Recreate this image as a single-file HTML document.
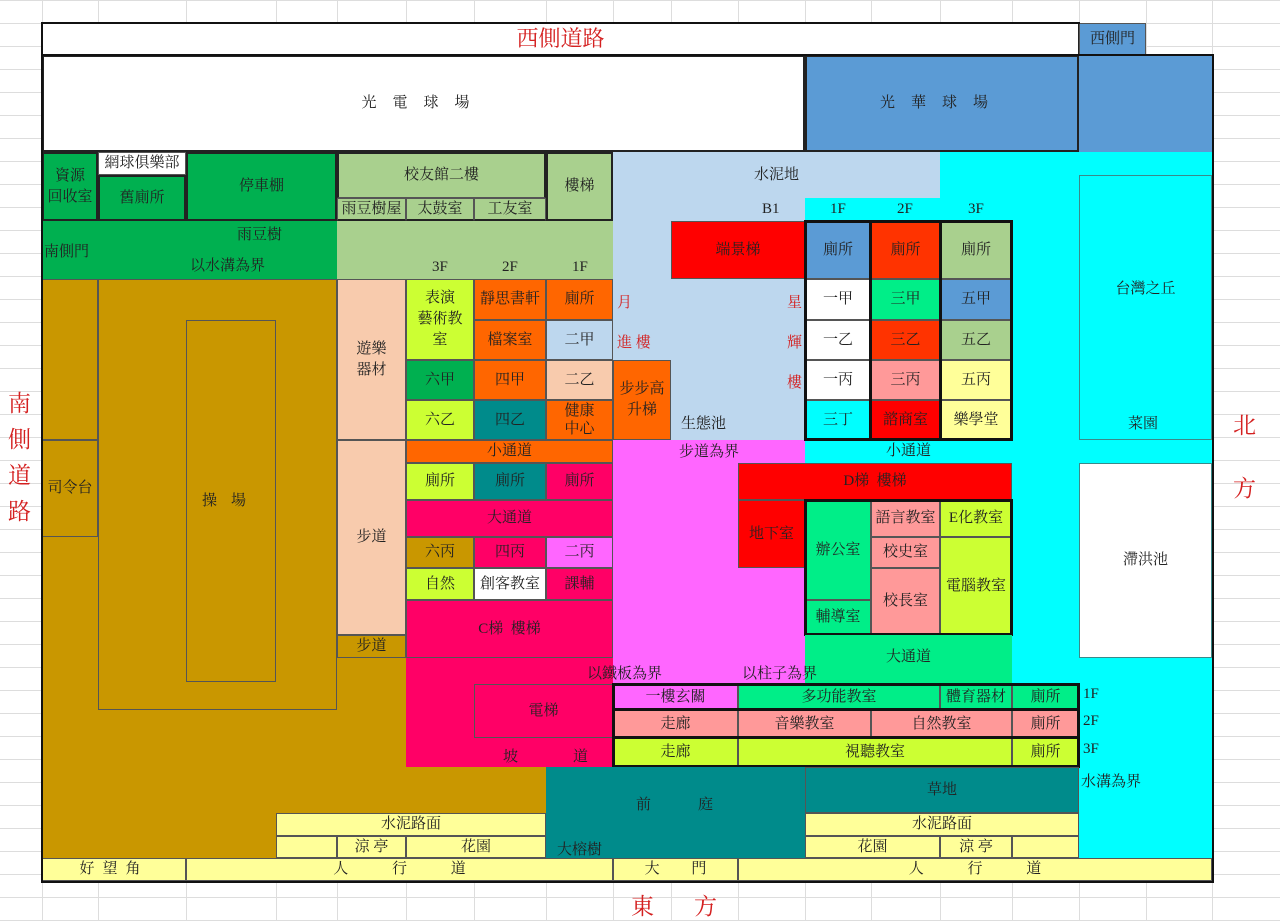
<!DOCTYPE html>
<html><head><meta charset="utf-8"><style>
body{margin:0;width:1280px;height:921px;position:relative;overflow:hidden;background:#fff;
font-family:"Liberation Serif","Noto Serif CJK SC","Noto Sans CJK TC",serif;font-size:15px;color:#222;
background-image:linear-gradient(#ddd 1px,transparent 1px);background-size:100% 23px;background-position:0 0}
.g{position:absolute;top:0;width:1px;height:921px;background:#ddd}
.b{position:absolute;box-sizing:border-box;display:flex;align-items:center;justify-content:center;text-align:center;line-height:1.4;border:1px solid #555}
.n{border:none}
.t{position:absolute;white-space:nowrap}
.r{color:#d42020}
.k{border:3px solid #111;position:absolute;box-sizing:border-box}
</style></head><body>
<div class="g" style="left:42px"></div><div class="g" style="left:98px"></div><div class="g" style="left:186px"></div><div class="g" style="left:276px"></div><div class="g" style="left:337px"></div><div class="g" style="left:406px"></div><div class="g" style="left:474px"></div><div class="g" style="left:546px"></div><div class="g" style="left:613px"></div><div class="g" style="left:671px"></div><div class="g" style="left:738px"></div><div class="g" style="left:805px"></div><div class="g" style="left:871px"></div><div class="g" style="left:940px"></div><div class="g" style="left:1012px"></div><div class="g" style="left:1079px"></div><div class="g" style="left:1146px"></div><div class="g" style="left:1212px"></div>

<div class="b n" style="left:42px;top:55px;width:1170px;height:826px;background:#00ffff"></div>
<div class="b" style="left:42px;top:23px;width:1037px;height:32px;background:#fff;font-size:22px;color:#d42020;border-color:#222">西側道路</div>
<div class="b" style="left:1079px;top:23px;width:67px;height:32px;background:#5b9bd5">西側門</div>
<div class="b" style="left:42px;top:55px;width:763px;height:97px;background:#fff;border:2px solid #222;letter-spacing:16px">光電球場</div>
<div class="b" style="left:805px;top:55px;width:274px;height:97px;background:#5b9bd5;border:2px solid #222;letter-spacing:16px">光華球場</div>
<div class="b n" style="left:1079px;top:55px;width:133px;height:97px;background:#5b9bd5"></div>

<div class="b n" style="left:613px;top:152px;width:327px;height:46px;background:#bdd7ee">水泥地</div>
<div class="b n" style="left:613px;top:198px;width:192px;height:242px;background:#bdd7ee"></div>
<div class="t" style="left:762px;top:201px">B1</div>
<div class="t" style="left:830px;top:201px">1F</div><div class="t" style="left:897px;top:201px">2F</div><div class="t" style="left:968px;top:201px">3F</div>

<div class="b n" style="left:42px;top:152px;width:295px;height:127px;background:#00b050"></div>
<div class="b" style="left:42px;top:152px;width:56px;height:69px;background:#00b050;border:2px solid #222">資源<br>回收室</div>
<div class="b" style="left:98px;top:152px;width:88px;height:23px;background:#fff">網球俱樂部</div>
<div class="b" style="left:98px;top:175px;width:88px;height:46px;background:#00b050;border:2px solid #222">舊廁所</div>
<div class="b" style="left:186px;top:152px;width:151px;height:69px;background:#00b050;border:2px solid #222">停車棚</div>
<div class="t" style="left:44px;top:240px">南側門</div>
<div class="t" style="left:237px;top:223px">雨豆樹</div>
<div class="t" style="left:190px;top:254px">以水溝為界</div>
<div class="b n" style="left:337px;top:152px;width:276px;height:127px;background:#a9d08e"></div>
<div class="b" style="left:337px;top:152px;width:209px;height:46px;background:#a9d08e;border:2px solid #222;border-bottom:1px solid #555">校友館二樓</div>
<div class="b" style="left:337px;top:198px;width:69px;height:23px;background:#a9d08e;border-bottom:2px solid #222">雨豆樹屋</div>
<div class="b" style="left:406px;top:198px;width:68px;height:23px;background:#a9d08e;border-bottom:2px solid #222">太鼓室</div>
<div class="b" style="left:474px;top:198px;width:72px;height:23px;background:#a9d08e;border-bottom:2px solid #222">工友室</div>
<div class="b" style="left:546px;top:152px;width:67px;height:69px;background:#a9d08e;border:2px solid #222">樓梯</div>
<div class="t" style="left:432px;top:259px">3F</div><div class="t" style="left:502px;top:259px">2F</div><div class="t" style="left:572px;top:259px">1F</div>

<div class="b n" style="left:42px;top:279px;width:295px;height:579px;background:#c99700"></div>
<div class="b n" style="left:337px;top:658px;width:209px;height:155px;background:#c99700"></div>
<div class="b" style="left:42px;top:279px;width:56px;height:161px;background:#c99700"></div>
<div class="b" style="left:42px;top:440px;width:56px;height:97px;background:#c99700">司令台</div>
<div class="b" style="left:98px;top:279px;width:239px;height:431px;background:#c99700"></div>
<div class="b" style="left:186px;top:320px;width:90px;height:362px;background:#c99700;letter-spacing:14px">操場</div>
<div class="b" style="left:337px;top:279px;width:69px;height:161px;background:#f8cbad">遊樂<br>器材</div>
<div class="b" style="left:337px;top:440px;width:69px;height:195px;background:#f8cbad">步道</div>
<div class="b" style="left:337px;top:635px;width:69px;height:23px;background:#c99700">步道</div>

<div class="b" style="left:406px;top:279px;width:68px;height:81px;background:#ccff33">表演<br>藝術教<br>室</div>
<div class="b" style="left:474px;top:279px;width:72px;height:41px;background:#ff6600">靜思書軒</div>
<div class="b" style="left:546px;top:279px;width:67px;height:41px;background:#ff6600">廁所</div>
<div class="b" style="left:474px;top:320px;width:72px;height:40px;background:#ff6600">檔案室</div>
<div class="b" style="left:546px;top:320px;width:67px;height:40px;background:#bdd7ee">二甲</div>
<div class="b" style="left:406px;top:360px;width:68px;height:40px;background:#00b050">六甲</div>
<div class="b" style="left:474px;top:360px;width:72px;height:40px;background:#ff6600">四甲</div>
<div class="b" style="left:546px;top:360px;width:67px;height:40px;background:#f8cbad">二乙</div>
<div class="b" style="left:406px;top:400px;width:68px;height:40px;background:#ccff33">六乙</div>
<div class="b" style="left:474px;top:400px;width:72px;height:40px;background:#008b8b">四乙</div>
<div class="b" style="left:546px;top:400px;width:67px;height:40px;background:#ff6600;line-height:1.2">健康<br>中心</div>
<div class="b" style="left:613px;top:360px;width:58px;height:80px;background:#ff6600">步步高<br>升梯</div>
<div class="t" style="left:681px;top:412px">生態池</div>
<div class="t r" style="left:617px;top:291px">月</div>
<div class="t r" style="left:617px;top:331px">進 樓</div>
<div class="t r" style="left:787px;top:291px">星</div>
<div class="t r" style="left:787px;top:331px">輝</div>
<div class="t r" style="left:787px;top:371px">樓</div>

<div class="b" style="left:406px;top:440px;width:207px;height:23px;background:#ff6600">小通道</div>
<div class="b n" style="left:613px;top:440px;width:192px;height:244px;background:#ff66ff;align-items:flex-start;padding-top:2px">步道為界</div>
<div class="b n" style="left:805px;top:440px;width:207px;height:23px;background:#00ffff">小通道</div>
<div class="b" style="left:406px;top:463px;width:68px;height:37px;background:#ccff33">廁所</div>
<div class="b" style="left:474px;top:463px;width:72px;height:37px;background:#008b8b">廁所</div>
<div class="b" style="left:546px;top:463px;width:67px;height:37px;background:#ff0066">廁所</div>
<div class="b" style="left:406px;top:500px;width:207px;height:37px;background:#ff0066">大通道</div>
<div class="b" style="left:406px;top:537px;width:68px;height:31px;background:#c99700">六丙</div>
<div class="b" style="left:474px;top:537px;width:72px;height:31px;background:#ff0066">四丙</div>
<div class="b" style="left:546px;top:537px;width:67px;height:31px;background:#ff66ff">二丙</div>
<div class="b" style="left:406px;top:568px;width:68px;height:32px;background:#ccff33">自然</div>
<div class="b" style="left:474px;top:568px;width:72px;height:32px;background:#fff">創客教室</div>
<div class="b" style="left:546px;top:568px;width:67px;height:32px;background:#ff0066">課輔</div>
<div class="b" style="left:406px;top:600px;width:207px;height:58px;background:#ff0066">C梯&nbsp; 樓梯</div>
<div class="b n" style="left:406px;top:658px;width:207px;height:109px;background:#ff0066"></div>
<div class="b" style="left:474px;top:684px;width:139px;height:54px;background:#ff0066">電梯</div>
<div class="t" style="left:503px;top:745px">坡</div><div class="t" style="left:573px;top:745px">道</div>

<div class="b" style="left:671px;top:221px;width:134px;height:58px;background:#ff0000">端景梯</div>
<div class="b" style="left:805px;top:221px;width:66px;height:58px;background:#5b9bd5">廁所</div>
<div class="b" style="left:871px;top:221px;width:69px;height:58px;background:#ff3300">廁所</div>
<div class="b" style="left:940px;top:221px;width:72px;height:58px;background:#a9d08e">廁所</div>
<div class="b" style="left:805px;top:279px;width:66px;height:41px;background:#fff">一甲</div>
<div class="b" style="left:871px;top:279px;width:69px;height:41px;background:#00ee88">三甲</div>
<div class="b" style="left:940px;top:279px;width:72px;height:41px;background:#5b9bd5">五甲</div>
<div class="b" style="left:805px;top:320px;width:66px;height:40px;background:#fff">一乙</div>
<div class="b" style="left:871px;top:320px;width:69px;height:40px;background:#ff3300">三乙</div>
<div class="b" style="left:940px;top:320px;width:72px;height:40px;background:#a9d08e">五乙</div>
<div class="b" style="left:805px;top:360px;width:66px;height:40px;background:#fff">一丙</div>
<div class="b" style="left:871px;top:360px;width:69px;height:40px;background:#ff9999">三丙</div>
<div class="b" style="left:940px;top:360px;width:72px;height:40px;background:#ffff99">五丙</div>
<div class="b" style="left:805px;top:400px;width:66px;height:40px;background:#00ffff">三丁</div>
<div class="b" style="left:871px;top:400px;width:69px;height:40px;background:#ff0000">諮商室</div>
<div class="b" style="left:940px;top:400px;width:72px;height:40px;background:#ffff99">樂學堂</div>
<div class="k" style="left:804px;top:220px;width:209px;height:221px"></div>
<div class="k" style="left:869px;top:220px;width:3px;height:221px;border-width:0 0 0 3px"></div>
<div class="k" style="left:939px;top:220px;width:3px;height:221px;border-width:0 0 0 3px"></div>

<div class="b" style="left:1079px;top:175px;width:133px;height:265px;background:#00ffff;border-color:#3a8a8a;align-items:flex-start;padding-top:103px">台灣之丘</div>
<div class="t" style="left:1128px;top:412px">菜園</div>
<div class="b" style="left:1079px;top:463px;width:133px;height:195px;background:#fff;border-color:#3a8a8a">滯洪池</div>

<div class="b" style="left:738px;top:463px;width:274px;height:37px;background:#ff0000">D梯&nbsp; 樓梯</div>
<div class="b" style="left:738px;top:500px;width:67px;height:68px;background:#ff0000">地下室</div>
<div class="b" style="left:805px;top:500px;width:66px;height:100px;background:#00ee88">辦公室</div>
<div class="b" style="left:805px;top:600px;width:66px;height:35px;background:#00ee88">輔導室</div>
<div class="b" style="left:871px;top:500px;width:69px;height:37px;background:#ff9999">語言教室</div>
<div class="b" style="left:871px;top:537px;width:69px;height:31px;background:#ff9999">校史室</div>
<div class="b" style="left:871px;top:568px;width:69px;height:67px;background:#ff9999">校長室</div>
<div class="b" style="left:940px;top:500px;width:72px;height:37px;background:#ccff33">E化教室</div>
<div class="b" style="left:940px;top:537px;width:72px;height:98px;background:#ccff33">電腦教室</div>
<div class="k" style="left:804px;top:499px;width:209px;height:137px"></div>
<div class="b n" style="left:805px;top:635px;width:207px;height:49px;background:#00ee88;align-items:flex-start;padding-top:12px">大通道</div>
<div class="t" style="left:587px;top:662px">以鐵板為界</div>
<div class="t" style="left:742px;top:662px">以柱子為界</div>

<div class="b" style="left:613px;top:684px;width:125px;height:26px;background:#ff66ff">一樓玄關</div>
<div class="b" style="left:738px;top:684px;width:202px;height:26px;background:#00ee88">多功能教室</div>
<div class="b" style="left:940px;top:684px;width:72px;height:26px;background:#00ee88">體育器材</div>
<div class="b" style="left:1012px;top:684px;width:67px;height:26px;background:#00ee88">廁所</div>
<div class="b" style="left:613px;top:710px;width:125px;height:28px;background:#ff9999">走廊</div>
<div class="b" style="left:738px;top:710px;width:133px;height:28px;background:#ff9999">音樂教室</div>
<div class="b" style="left:871px;top:710px;width:141px;height:28px;background:#ff9999">自然教室</div>
<div class="b" style="left:1012px;top:710px;width:67px;height:28px;background:#ff9999">廁所</div>
<div class="b" style="left:613px;top:738px;width:125px;height:29px;background:#ccff33">走廊</div>
<div class="b" style="left:738px;top:738px;width:274px;height:29px;background:#ccff33">視聽教室</div>
<div class="b" style="left:1012px;top:738px;width:67px;height:29px;background:#ccff33">廁所</div>
<div class="k" style="left:612px;top:683px;width:468px;height:85px"></div>
<div class="k" style="left:612px;top:708px;width:468px;height:3px;border-width:3px 0 0 0"></div>
<div class="k" style="left:612px;top:736px;width:468px;height:3px;border-width:3px 0 0 0"></div>
<div class="t" style="left:1083px;top:686px">1F</div><div class="t" style="left:1083px;top:713px">2F</div><div class="t" style="left:1083px;top:741px">3F</div>
<div class="t" style="left:1081px;top:770px">水溝為界</div>

<div class="b n" style="left:546px;top:767px;width:259px;height:91px;background:#008b8b"></div>
<div class="t" style="left:636px;top:793px">前</div><div class="t" style="left:698px;top:793px">庭</div>
<div class="t" style="left:557px;top:838px">大榕樹</div>
<div class="b" style="left:805px;top:767px;width:274px;height:46px;background:#008b8b">草地</div>
<div class="b" style="left:805px;top:813px;width:274px;height:23px;background:#ffff99">水泥路面</div>
<div class="b" style="left:805px;top:836px;width:135px;height:22px;background:#ffff99">花園</div>
<div class="b" style="left:940px;top:836px;width:72px;height:22px;background:#ffff99">涼 亭</div>
<div class="b" style="left:1012px;top:836px;width:67px;height:22px;background:#ffff99"></div>
<div class="b" style="left:276px;top:813px;width:270px;height:23px;background:#ffff99">水泥路面</div>
<div class="b" style="left:276px;top:836px;width:61px;height:22px;background:#ffff99"></div>
<div class="b" style="left:337px;top:836px;width:69px;height:22px;background:#ffff99">涼 亭</div>
<div class="b" style="left:406px;top:836px;width:140px;height:22px;background:#ffff99">花園</div>
<div class="b" style="left:42px;top:858px;width:144px;height:23px;background:#ffff99;letter-spacing:8px">好望角</div>
<div class="b" style="left:186px;top:858px;width:427px;height:23px;background:#ffff99;word-spacing:40px">人 行 道</div>
<div class="b" style="left:613px;top:858px;width:125px;height:23px;background:#ffff99;word-spacing:28px">大 門</div>
<div class="b" style="left:738px;top:858px;width:474px;height:23px;background:#ffff99;word-spacing:40px">人 行 道</div>
<div class="k" style="left:41px;top:22px;width:1039px;height:35px;border-width:2px 0 0 2px"></div>
<div class="k" style="left:41px;top:54px;width:1173px;height:829px;border-width:2px"></div>
<div class="k" style="left:41px;top:22px;width:2px;height:40px;border-width:0 0 0 2px"></div>

<div class="t r" style="left:8px;top:386px;font-size:23px;line-height:36px;width:26px;white-space:normal">南側道路</div>
<div class="t r" style="left:1233px;top:407px;font-size:23px">北</div>
<div class="t r" style="left:1233px;top:470px;font-size:23px">方</div>
<div class="t r" style="left:631px;top:888px;font-size:23px">東</div>
<div class="t r" style="left:694px;top:888px;font-size:23px">方</div>
</body></html>
